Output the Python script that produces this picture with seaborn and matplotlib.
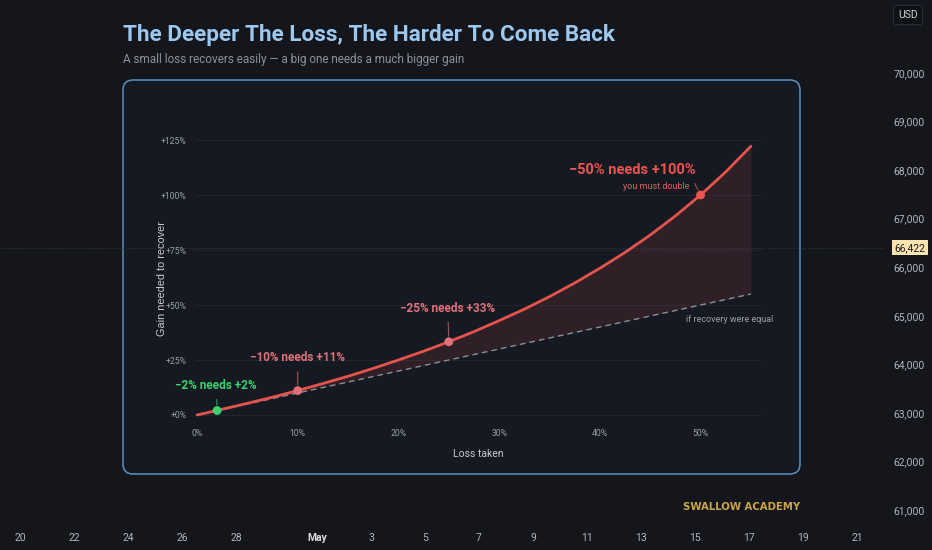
import numpy as np
import pandas as pd
import matplotlib
matplotlib.use("Agg")
import matplotlib.pyplot as plt
import matplotlib.transforms as mtransforms
from matplotlib.patches import FancyBboxPatch
import seaborn as sns

# recovery curve (loss taken % -> gain needed %)
loss_pct = [0, 2.5, 5, 7.5, 10, 12.5, 15, 17.5, 20, 22.5, 25, 27.5, 30,
            32.5, 35, 37.5, 40, 42.5, 45, 47.5, 50, 52.5, 55]
gain_pct = [0, 2.6, 5.3, 8.1, 11.1, 14.3, 17.6, 21.2, 25.0, 29.0, 33.3, 37.9, 42.9,
            48.1, 53.8, 60.0, 66.7, 73.9, 81.8, 90.5, 100.0, 110.5, 122.2]

hl_loss = [2, 10, 25, 50]
hl_gain = [2.04, 11.1, 33.3, 100.0]
hl_text = ["\u22122% needs +2%", "\u221210% needs +11%", "\u221225% needs +33%", "\u221250% needs +100%"]
hl_color = ["#3ecf6e", "#e0707a", "#e0707a", "#ef5350"]

x_ticks = [0, 10, 20, 30, 40, 50]
y_ticks = [0, 25, 50, 75, 100, 125]

# tradingview chart behind the card
date_days = [0, 2, 4, 6, 8, 11, 13, 15, 17, 19, 21, 23, 25, 27, 29, 31]
date_labels = ["20", "22", "24", "26", "28", "May", "3", "5", "7", "9", "11", "13",
               "15", "17", "19", "21"]
price_ticks = [70000, 69000, 68000, 67000, 66000, 65000, 64000, 63000, 62000, 61000]
last_price = 66422

BG = "#14161c"
CARD = "#151a22"

sns.set_theme(style="dark")
plt.rcParams["font.family"] = ["Roboto", "DejaVu Sans"]

fig = plt.figure(figsize=(9.32, 5.5), dpi=100, facecolor=BG)

# background axes (dates / prices)
bg = fig.add_axes([0, 0, 1, 1], zorder=0)
bg.set_facecolor(BG)
bg.set_xlim(-0.741, 33.78)
bg.set_ylim(60196, 71524)
bg.set_axis_off()
tx = mtransforms.blended_transform_factory(bg.transData, bg.transAxes)
ty = mtransforms.blended_transform_factory(bg.transAxes, bg.transData)
for d, lab in zip(date_days, date_labels):
    bg.text(d, 12 / 550, lab, transform=tx, ha="center", va="center", fontsize=7.5,
            color="#d8dae0" if lab == "May" else "#b2b5be",
            fontweight="bold" if lab == "May" else "normal")
for p in price_ticks:
    bg.text(925 / 932, p, f"{p:,}", transform=ty, ha="right", va="center",
            fontsize=7.5, color="#b2b5be")

card = FancyBboxPatch((123, 550 - 474), 677, 394, boxstyle="round,pad=0,rounding_size=10",
                      transform=mtransforms.IdentityTransform(), facecolor=CARD,
                      edgecolor="#5a92c0", linewidth=1.1, zorder=1)
bg.add_patch(card)

bg.plot([-0.741, 32.0], [last_price, last_price], color="#3e434d", lw=0.6,
        ls=(0, (1, 2)), zorder=2)
bg.text(925 / 932, last_price, f"{last_price:,}", transform=ty, ha="right", va="center",
        fontsize=7.5, color="#1a1a1a", zorder=3,
        bbox=dict(boxstyle="square,pad=0.25", facecolor="#fce3b0", edgecolor="none"))
bg.text(908 / 932, 1 - 15 / 550, "USD", transform=bg.transAxes, ha="center", va="center",
        fontsize=7.5, color="#d1d4dc",
        bbox=dict(boxstyle="round,pad=0.45,rounding_size=0.3", facecolor="#0f1115",
                  edgecolor="#2a2e39", lw=0.8))

fig.text(123 / 932, 1 - 35 / 550, "The Deeper The Loss, The Harder To Come Back",
         ha="left", va="center", fontsize=16.2, fontweight="bold", color="#9cc8f0")
fig.text(123 / 932, 1 - 59 / 550, "A small loss recovers easily \u2014 a big one needs a much bigger gain",
         ha="left", va="center", fontsize=8.5, color="#8b9099")
fig.text(800 / 932, 1 - 507 / 550, "SWALLOW ACADEMY",
         ha="right", va="center", fontsize=7.3, fontweight="bold", color="#c9a44a",
         family=["DejaVu Sans"])

# main chart
ax = fig.add_axes([195 / 932, (550 - 421.6) / 550, 567 / 932, (421.6 - 129) / 550], zorder=3)
ax.set_facecolor("none")
ax.set_xlim(-0.2, 56.1)
ax.set_ylim(-3, 130)

df = pd.DataFrame({"loss": loss_pct, "gain": gain_pct})
ax.fill_between(df["loss"], df["loss"], df["gain"], color="#e5534b", alpha=0.12, lw=0)
sns.lineplot(data=df, x="loss", y="loss", ax=ax, color="#8a8f98", lw=1,
             dashes=False, linestyle=(0, (4, 3)))
sns.lineplot(data=df, x="loss", y="gain", ax=ax, color="#e5534b", lw=2)

hl = pd.DataFrame({"loss": hl_loss, "gain": hl_gain, "col": hl_color})
sns.scatterplot(data=hl, x="loss", y="gain", ax=ax, color=hl_color, s=40,
                edgecolor="none", zorder=5)

text_pos = [(1.9, 13.4), (10, 26.0), (24.9, 48.6), (43.2, 111.4)]
for (tx_, ty_), lx, gy, lab, c in zip(text_pos, hl_loss, hl_gain, hl_text, hl_color):
    if lx == 50:
        ax.text(tx_, ty_, lab, ha="center", va="center", fontsize=10.5,
                fontweight="bold", color=c)
    else:
        ax.annotate(lab, xy=(lx, gy), xytext=(tx_, ty_), ha="center", va="center",
                    fontsize=8.5, fontweight="bold", color=c,
                    arrowprops=dict(arrowstyle="-", color=c, lw=0.8, alpha=0.7,
                                    shrinkA=3, shrinkB=4))
ax.text(48.9, 103.8, "you must double", ha="right", va="center",
        fontsize=6.5, color="#d9605f")
ax.annotate("", xy=(50, 100), xytext=(49.4, 105.3),
            arrowprops=dict(arrowstyle="-", color="#d9605f", lw=0.7, alpha=0.8,
                            shrinkA=0, shrinkB=4))
ax.text(48.6, 43.6, "if recovery were equal", ha="left", va="center", fontsize=6.5,
        color="#9aa0a8")

ax.set_xticks(x_ticks)
ax.set_xticklabels([f"{v}%" for v in x_ticks])
ax.set_yticks(y_ticks)
ax.set_yticklabels([f"+{v}%" for v in y_ticks])
ax.tick_params(axis="both", length=0, labelsize=6.2, labelcolor="#9aa0a8")
ax.tick_params(axis="y", pad=6)
ax.tick_params(axis="x", pad=5)
ax.grid(axis="y", color="#20252f", lw=0.8)
ax.grid(axis="x", visible=False)
for s in ax.spines.values():
    s.set_visible(False)
ax.set_xlabel("Loss taken", fontsize=7.5, color="#c8ccd2", labelpad=8)
ax.set_ylabel("Gain needed to recover", fontsize=7.8, color="#c8ccd2",
              family=["Liberation Sans", "DejaVu Sans"])
ax.yaxis.set_label_coords(-0.05, 0.49)

fig.savefig("out.png", dpi=100, facecolor=BG)
